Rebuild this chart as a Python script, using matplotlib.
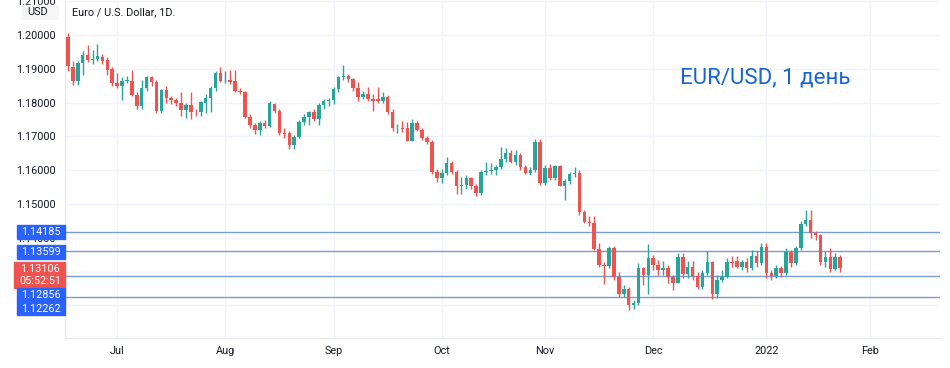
import numpy as np
import pandas as pd
import matplotlib.pyplot as plt
from matplotlib.patches import Rectangle

# EUR/USD daily candles, 17 Jun 2021 - 24 Jan 2022
dates = pd.bdate_range('2021-06-17', '2022-01-24')

opens = [1.1993, 1.1904, 1.1865, 1.1917, 1.1940, 1.1925, 1.1930, 1.1935, 1.1925, 1.1898,
         1.1858, 1.1848, 1.1865, 1.1865, 1.1823, 1.1789, 1.1843, 1.1876, 1.1860, 1.1774,
         1.1836, 1.1814, 1.1807, 1.1799, 1.1779, 1.1793, 1.1772, 1.1771, 1.1800, 1.1815,
         1.1842, 1.1888, 1.1866, 1.1867, 1.1865, 1.1835, 1.1830, 1.1758, 1.1734, 1.1719,
         1.1739, 1.1731, 1.1795, 1.1776, 1.1709, 1.1709, 1.1675, 1.1697, 1.1743, 1.1756,
         1.1771, 1.1751, 1.1793, 1.1805, 1.1808, 1.1839, 1.1875, 1.1880, 1.1869, 1.1842,
         1.1816, 1.1825, 1.1812, 1.1810, 1.1804, 1.1818, 1.1773, 1.1724, 1.1726, 1.1724,
         1.1687, 1.1739, 1.1719, 1.1694, 1.1683, 1.1596, 1.1576, 1.1591, 1.1620, 1.1596,
         1.1553, 1.1555, 1.1576, 1.1553, 1.1532, 1.1596, 1.1598, 1.1600, 1.1610, 1.1632,
         1.1652, 1.1623, 1.1645, 1.1609, 1.1593, 1.1600, 1.1684, 1.1561, 1.1606, 1.1578,
         1.1612, 1.1553, 1.1567, 1.1588, 1.1593, 1.1477, 1.1448, 1.1444, 1.1367, 1.1320,
         1.1318, 1.1371, 1.1285, 1.1234, 1.1248, 1.1201, 1.1207, 1.1310, 1.1290, 1.1339,
         1.1321, 1.1305, 1.1312, 1.1285, 1.1267, 1.1344, 1.1293, 1.1315, 1.1286, 1.1255,
         1.1295, 1.1327, 1.1234, 1.1275, 1.1285, 1.1327, 1.1330, 1.1315, 1.1327, 1.1310,
         1.1346, 1.1325, 1.1372, 1.1295, 1.1287, 1.1310, 1.1296, 1.1359, 1.1326, 1.1369,
         1.1440, 1.1453, 1.1413, 1.1408, 1.1327, 1.1342, 1.1307, 1.1342]
highs = [1.2006, 1.1922, 1.1922, 1.1952, 1.1971, 1.1955, 1.1974, 1.1945, 1.1934, 1.1905,
         1.1888, 1.1875, 1.1880, 1.1897, 1.1830, 1.1868, 1.1880, 1.1880, 1.1866, 1.1840,
         1.1850, 1.1820, 1.1815, 1.1830, 1.1800, 1.1830, 1.1780, 1.1805, 1.1825, 1.1848,
         1.1894, 1.1906, 1.1895, 1.1897, 1.1896, 1.1842, 1.1835, 1.1765, 1.1740, 1.1745,
         1.1750, 1.1805, 1.1800, 1.1780, 1.1725, 1.1715, 1.1705, 1.1750, 1.1765, 1.1775,
         1.1780, 1.1800, 1.1810, 1.1815, 1.1845, 1.1880, 1.1911, 1.1885, 1.1872, 1.1862,
         1.1835, 1.1846, 1.1825, 1.1845, 1.1830, 1.1822, 1.1780, 1.1738, 1.1745, 1.1742,
         1.1752, 1.1745, 1.1725, 1.1700, 1.1688, 1.1605, 1.1605, 1.1640, 1.1626, 1.1600,
         1.1580, 1.1585, 1.1580, 1.1560, 1.1600, 1.1625, 1.1620, 1.1615, 1.1668, 1.1665,
         1.1660, 1.1660, 1.1650, 1.1615, 1.1610, 1.1692, 1.1692, 1.1616, 1.1618, 1.1616,
         1.1616, 1.1575, 1.1595, 1.1609, 1.1600, 1.1483, 1.1465, 1.1465, 1.1385, 1.1327,
         1.1375, 1.1375, 1.1300, 1.1260, 1.1255, 1.1215, 1.1325, 1.1315, 1.1382, 1.1350,
         1.1335, 1.1330, 1.1320, 1.1290, 1.1355, 1.1355, 1.1330, 1.1330, 1.1300, 1.1305,
         1.1360, 1.1330, 1.1290, 1.1305, 1.1340, 1.1345, 1.1345, 1.1335, 1.1340, 1.1365,
         1.1360, 1.1385, 1.1385, 1.1305, 1.1320, 1.1318, 1.1370, 1.1365, 1.1375, 1.1450,
         1.1482, 1.1483, 1.1420, 1.1410, 1.1360, 1.1370, 1.1355, 1.1348]
lows = [1.1894, 1.1851, 1.1851, 1.1883, 1.1919, 1.1914, 1.1922, 1.1915, 1.1883, 1.1848,
        1.1843, 1.1809, 1.1858, 1.1820, 1.1782, 1.1780, 1.1835, 1.1850, 1.1770, 1.1770,
        1.1800, 1.1795, 1.1790, 1.1760, 1.1755, 1.1752, 1.1760, 1.1760, 1.1770, 1.1773,
        1.1835, 1.1860, 1.1858, 1.1855, 1.1830, 1.1825, 1.1755, 1.1725, 1.1706, 1.1704,
        1.1724, 1.1728, 1.1770, 1.1705, 1.1695, 1.1664, 1.1664, 1.1695, 1.1735, 1.1735,
        1.1745, 1.1735, 1.1780, 1.1790, 1.1795, 1.1830, 1.1866, 1.1862, 1.1835, 1.1805,
        1.1810, 1.1805, 1.1775, 1.1798, 1.1800, 1.1765, 1.1715, 1.1710, 1.1714, 1.1685,
        1.1685, 1.1715, 1.1690, 1.1678, 1.1590, 1.1565, 1.1563, 1.1585, 1.1590, 1.1530,
        1.1529, 1.1545, 1.1545, 1.1525, 1.1528, 1.1585, 1.1590, 1.1585, 1.1605, 1.1625,
        1.1620, 1.1615, 1.1600, 1.1590, 1.1585, 1.1595, 1.1555, 1.1555, 1.1570, 1.1570,
        1.1552, 1.1513, 1.1560, 1.1580, 1.1467, 1.1443, 1.1436, 1.1365, 1.1314, 1.1263,
        1.1310, 1.1275, 1.1225, 1.1226, 1.1186, 1.1190, 1.1200, 1.1260, 1.1235, 1.1305,
        1.1290, 1.1290, 1.1265, 1.1245, 1.1265, 1.1280, 1.1280, 1.1275, 1.1250, 1.1248,
        1.1290, 1.1220, 1.1222, 1.1270, 1.1280, 1.1315, 1.1310, 1.1305, 1.1300, 1.1305,
        1.1315, 1.1320, 1.1280, 1.1275, 1.1280, 1.1285, 1.1290, 1.1315, 1.1320, 1.1365,
        1.1435, 1.1400, 1.1395, 1.1320, 1.1315, 1.1300, 1.1305, 1.1300]
closes = [1.1907, 1.1865, 1.1917, 1.1940, 1.1925, 1.1930, 1.1937, 1.1922, 1.1897, 1.1858,
          1.1850, 1.1865, 1.1866, 1.1823, 1.1789, 1.1843, 1.1876, 1.1860, 1.1774, 1.1836,
          1.1814, 1.1808, 1.1800, 1.1779, 1.1793, 1.1772, 1.1771, 1.1801, 1.1815, 1.1842,
          1.1888, 1.1865, 1.1868, 1.1862, 1.1835, 1.1830, 1.1758, 1.1734, 1.1719, 1.1739,
          1.1731, 1.1798, 1.1776, 1.1709, 1.1707, 1.1675, 1.1697, 1.1743, 1.1756, 1.1771,
          1.1751, 1.1793, 1.1805, 1.1808, 1.1839, 1.1875, 1.1880, 1.1869, 1.1842, 1.1816,
          1.1825, 1.1812, 1.1806, 1.1804, 1.1818, 1.1773, 1.1724, 1.1726, 1.1722, 1.1687,
          1.1739, 1.1719, 1.1694, 1.1683, 1.1596, 1.1576, 1.1591, 1.1620, 1.1596, 1.1553,
          1.1555, 1.1576, 1.1553, 1.1532, 1.1596, 1.1598, 1.1600, 1.1610, 1.1632, 1.1652,
          1.1623, 1.1645, 1.1609, 1.1593, 1.1600, 1.1684, 1.1561, 1.1606, 1.1578, 1.1612,
          1.1553, 1.1567, 1.1588, 1.1593, 1.1477, 1.1448, 1.1444, 1.1367, 1.1320, 1.1318,
          1.1371, 1.1285, 1.1234, 1.1248, 1.1201, 1.1207, 1.1310, 1.1290, 1.1339, 1.1321,
          1.1305, 1.1312, 1.1285, 1.1267, 1.1344, 1.1293, 1.1315, 1.1286, 1.1255, 1.1295,
          1.1327, 1.1234, 1.1275, 1.1285, 1.1327, 1.1325, 1.1315, 1.1327, 1.1310, 1.1346,
          1.1325, 1.1372, 1.1295, 1.1287, 1.1310, 1.1296, 1.1359, 1.1326, 1.1369, 1.1440,
          1.1453, 1.1413, 1.1408, 1.1327, 1.1342, 1.1307, 1.1342, 1.1311]

levels = [1.14185, 1.13599, 1.12856, 1.12262]
price_ticks = [1.12, 1.13, 1.14, 1.15, 1.16, 1.17, 1.18, 1.19, 1.20, 1.21]
# 1.12 / 1.13 sit under the price labels, so their text is left blank
tick_text = ['', '', '1.14000', '1.15000', '1.16000', '1.17000', '1.18000',
             '1.19000', '1.20000', '1.21000']
month_names = ['Jul', 'Aug', 'Sep', 'Oct', 'Nov', 'Dec', '2022', 'Feb']

GREEN = '#26a69a'
RED = '#ef5350'
BLUE = '#2962ff'
TXT = '#131722'

plt.rcParams['font.family'] = ['Roboto', 'DejaVu Sans']

W, H = 950, 368
fig = plt.figure(figsize=(W / 100, H / 100), dpi=100)
ax = fig.add_axes([65 / W, 30 / H, 875 / W, 338 / H])

o = np.array(opens)
h = np.array(highs)
l = np.array(lows)
c = np.array(closes)
x = np.arange(len(dates))
cols = np.where(c >= o, GREEN, RED)

ax.vlines(x, l, h, colors=cols, linewidth=1, zorder=3)
body = np.maximum(np.abs(c - o), 0.00008)
ax.bar(x, body, bottom=np.minimum(o, c), width=0.72, color=cols, zorder=4)

for lv in levels:
    ax.axhline(lv, color='#7a9cc9', linewidth=1, zorder=2)

# month ticks at first trading day of each month
ext = pd.bdate_range('2021-06-17', '2022-02-10')
month_pos = [i for i in range(1, len(ext)) if ext[i].month != ext[i - 1].month]
ax.set_xticks(month_pos)
ax.set_xticklabels(month_names)
ax.set_yticks(price_ticks)
ax.set_yticklabels(tick_text)

ax.set_xlim(-0.6, 177.3)
ax.set_ylim(1.11036, 1.21036)
ax.tick_params(length=0, labelsize=7.8, colors=TXT)
ax.tick_params(axis='x', pad=6)
ax.tick_params(axis='y', pad=7)
ax.grid(True, color='#f0f3fa', linewidth=1, zorder=0)
for s in ['top', 'right']:
    ax.spines[s].set_visible(False)
ax.spines['left'].set_color('#e6e8ee')
ax.spines['bottom'].set_color('#e6e8ee')


def fx(px):
    return px / W


def fy(py):
    return 1 - py / H


def box(x0, y0, x1, y1, color):
    fig.add_artist(Rectangle((fx(x0), fy(y1)), fx(x1) - fx(x0), (y1 - y0) / H,
                             transform=fig.transFigure, color=color, zorder=5))


def label(px, py, s, color='white', **kw):
    fig.text(fx(px), fy(py), s, color=color, fontsize=7.8, ha='center', va='center',
             zorder=6, **kw)


box(17, 225, 65, 239, BLUE)
label(41, 232, '1.14185')
box(17, 245, 65, 259, BLUE)
label(41, 252, '1.13599')
box(14, 262, 65, 288, RED)
label(40, 268.5, '1.13106')
label(40, 281.5, '05:52:51')
box(17, 288, 65, 315, BLUE)
label(41, 295, '1.12856')
label(41, 309, '1.12262')

box(22, 5, 58, 19, '#f5f6f8')
label(38, 12, 'USD', color=TXT)
fig.text(fx(72), fy(12), 'Euro / U.S. Dollar, 1D.', color=TXT, fontsize=7.8,
         ha='left', va='center')
fig.text(fx(680), fy(78), 'EUR/USD, 1 день', color='#1565d8', fontsize=16,
         ha='left', va='center')

fig.savefig('out.png', dpi=100, facecolor='white')
